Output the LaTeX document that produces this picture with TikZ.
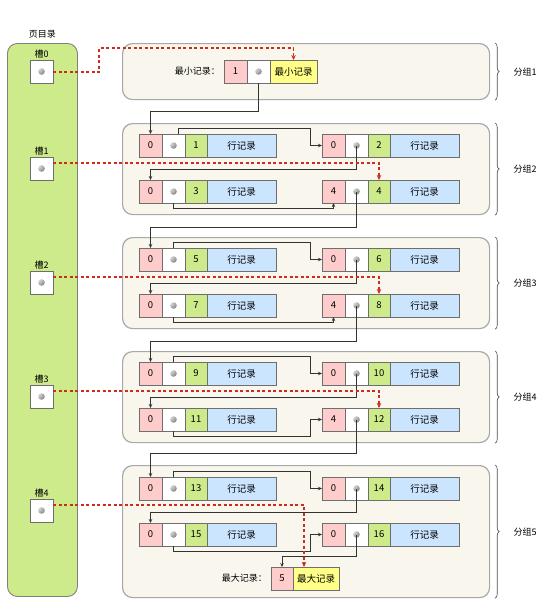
\documentclass[tikz,border=0pt]{standalone}
\usepackage{fontspec}
\setmainfont{Noto Sans CJK SC}
\usepackage{tikz}
\usetikzlibrary{positioning, calc, arrows.meta, decorations.pathreplacing}
\definecolor{dirgreen}{HTML}{CDEB8B}
\definecolor{grpfill}{HTML}{F9F7ED}
\definecolor{grpline}{HTML}{A8A8A8}
\definecolor{cellline}{HTML}{6E6E6E}
\definecolor{hdrpink}{HTML}{FFCCCC}
\definecolor{recblue}{HTML}{CCE5FF}
\definecolor{infyellow}{HTML}{FFFF88}
\definecolor{slotred}{HTML}{CC2B1D}
\tikzstyle{cell} = [rectangle, draw=cellline, line width=0.8pt, outer sep=0pt,
    inner sep=0pt, minimum height=23pt, font=\fontsize{9.5}{11}\selectfont]
\tikzstyle{pinkcell} = [cell, fill=hdrpink, minimum width=23pt]
\tikzstyle{dotcell} = [cell, fill=white, minimum width=23pt,
    path picture={\shade[ball color=gray!70] (path picture bounding box.center) circle (3.3pt);}]
\tikzstyle{numcell} = [cell, fill=dirgreen, minimum width=22pt]
\tikzstyle{rowcell} = [cell, fill=recblue, minimum width=69pt]
\tikzstyle{infcell} = [cell, fill=infyellow, minimum width=47pt]
\tikzstyle{group} = [rectangle, rounded corners=10pt, draw=grpline, line width=1.2pt,
    fill=grpfill, minimum width=367pt, anchor=north west]
\tikzstyle{lbl} = [font=\fontsize{9}{11}\selectfont, inner sep=1pt]
\tikzstyle{link} = [draw=black!80, line width=0.7pt, -{Stealth[length=4pt,width=3.5pt]}]
\tikzstyle{slotlink} = [draw=slotred, line width=1.1pt, dash pattern=on 3pt off 2.5pt,
    -{Stealth[length=5pt,width=4.5pt]}]
\tikzstyle{bracket} = [draw=black!70, line width=0.6pt, decorate,
    decoration={brace, amplitude=4pt}]
\begin{document}
\begin{tikzpicture}[x=1pt, y=-1pt]
  \useasboundingbox (0,0) rectangle (551,608);

  \node (dir) [rectangle, rounded corners=10pt, draw=gray, line width=0.9pt, fill=dirgreen,
        minimum width=70pt, minimum height=553pt, anchor=north west] at (7,43) {};
  \node (dirlbl) [lbl, above=4pt of dir] {页目录};

  \foreach \s/\y in {0/60, 1/157, 2/271, 3/385, 4/499} {
    \node (s\s) [dotcell, anchor=north west] at (30,\y) {};
    \node (t\s) [lbl, above=1pt of s\s] {槽\s};
  }

  \foreach \g/\t/\h in {1/43/56, 2/123/91, 3/237/91, 4/351/91, 5/465/132}
    \node (g\g) [group, minimum height=\h pt] at (122,\t) {};
  \foreach \g in {1,...,5}
    \draw[bracket] ($(g\g.north east)+(5,0)$) -- ($(g\g.south east)+(5,0)$)
        node (b\g) [lbl, midway, right=17pt] {分组\g};

  \node (min-n) [pinkcell, anchor=north west] at (224,60) {1};
  \node (min-p) [dotcell, right=0pt of min-n] {};
  \node (min-i) [infcell, right=0pt of min-p] {最小记录};
  \node (min-l) [lbl, left=3pt of min-n] {最小记录：};

  \foreach \nm/\x/\y/\a/\b in {r1/139/134/0/1, r2/322/134/0/2, r3/139/180/0/3, r4/322/180/4/4,
      r5/139/248/0/5, r6/322/248/0/6, r7/139/294/0/7, r8/322/294/4/8,
      r9/139/362/0/9, r10/322/362/0/10, r11/139/408/0/11, r12/322/408/4/12,
      r13/139/477/0/13, r14/322/477/0/14, r15/139/523/0/15, r16/322/523/0/16} {
    \node (\nm-n) [pinkcell, anchor=north west] at (\x,\y) {\a};
    \node (\nm-p) [dotcell, right=0pt of \nm-n] {};
    \node (\nm-g) [numcell, right=0pt of \nm-p] {\b};
    \node (\nm-r) [rowcell, right=0pt of \nm-g] {行记录};
  }

  \node (max-n) [pinkcell, anchor=north west, minimum width=22pt] at (271,567) {5};
  \node (max-i) [infcell, right=0pt of max-n, minimum width=46pt] {最大记录};
  \node (max-l) [lbl, left=3pt of max-n] {最大记录：};

  \draw[link] (min-p.south) |- ($(r1-n.north)+(0,-23)$) -- (r1-n.north);
  \foreach \a/\b/\o in {r1/r2/5, r5/r6/0, r9/r10/0, r13/r14/0}
    \draw[link] ($(\a-p.north)+(\o,0)$) |- ($(\b-n.west)+(-12,-17.5)$) |- (\b-n.west);
  \foreach \a/\b in {r2/r3, r6/r7, r10/r11, r14/r15}
    \draw[link] (\a-p.center) |- ($(\b-n.north)+(0,-11)$) -- (\b-n.north);
  \foreach \a/\b in {r3/r4, r7/r8}
    \draw[link] (\a-p.south) |- ($(\b-n.south)+(0,5)$) -- (\b-n.south);
  \foreach \a/\b in {r11/r12, r15/r16}
    \draw[link] (\a-p.south) |- ($(\b-n.west)+(-12,16.5)$) |- (\b-n.west);
  \foreach \a/\b/\d in {r4/r5/21, r8/r9/21, r12/r13/24}
    \draw[link] (\a-p.center) |- ($(\b-n.north)+(0,-\d)$) -- (\b-n.north);
  \draw[link] (r16-p.center) |- ($(max-n.north)+(0,-11)$) -- (max-n.north);

  \draw[slotlink] ($(s0.east)+(0,0.5)$) -| (99,48) -| (min-i.north);
  \foreach \s/\t in {1/r4-g, 2/r8-g, 3/r12-g}
    \draw[slotlink] ($(s\s.north east)+(0,6)$) -| (\t.north);
  \draw[slotlink] ($(s4.north east)+(0,6)$) -| ($(max-i.north west)+(11,0)$);

\end{tikzpicture}
\end{document}
